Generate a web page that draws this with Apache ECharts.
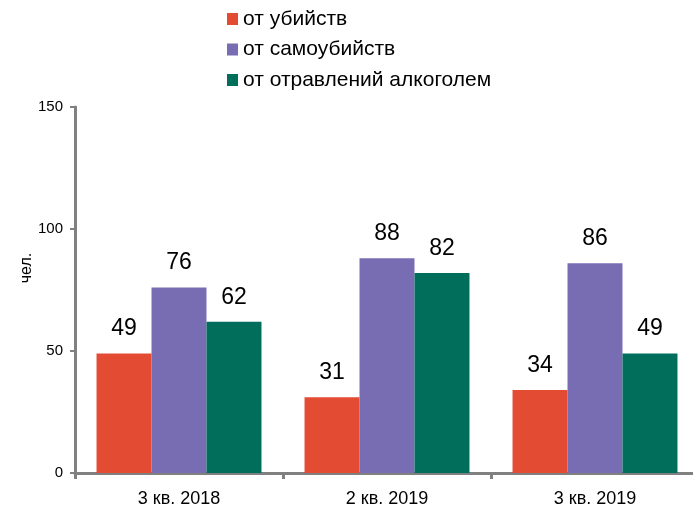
<!DOCTYPE html>
<html>
<head>
<meta charset="utf-8">
<script src="https://cdn.jsdelivr.net/npm/echarts@6/dist/echarts.min.js"></script>
<style>
html, body { margin: 0; padding: 0; background: #fff; }
#chart { width: 693px; height: 508px; }
</style>
</head>
<body>
<div id="chart"></div>
<script>
const categories = ['3 кв. 2018', '2 кв. 2019', '3 кв. 2019'];
const seriesNames = ['от убийств', 'от самоубийств', 'от отравлений алкоголем'];
const murders = [49, 31, 34];
const suicides = [76, 88, 86];
const alcohol = [62, 82, 49];
const colors = ['#E34B33', '#786CB3', '#006E5B'];
const yUnit = 'чел.';

const chart = echarts.init(document.getElementById('chart'));
const font = 'Liberation Sans, Arial, sans-serif';

const mkSeries = (name, data, color) => ({
    name,
    type: 'bar',
    data,
    barGap: 0,
    barCategoryGap: '20.7%',
    itemStyle: { color },
    label: {
        show: true,
        position: 'top',
        distance: 13,
        color: '#000',
        fontSize: 23,
        fontFamily: font,
    },
});

chart.setOption({
    animation: false,
    color: colors,
    textStyle: { fontFamily: font },
    legend: {
        orient: 'vertical',
        left: 222,
        top: 3,
        itemWidth: 11,
        itemHeight: 12,
        itemGap: 8.5,
        icon: 'rect',
        textStyle: { fontSize: 21, lineHeight: 22, color: '#000', fontFamily: font },
        data: seriesNames,
    },
    // unit label beside the y axis
    graphic: [{
        type: 'text',
        x: 27,
        y: 268,
        rotation: Math.PI / 2,
        style: {
            text: yUnit,
            fill: '#000',
            font: '16px ' + font,
            align: 'center',
            verticalAlign: 'middle',
        },
    }],
    grid: {
        left: 75,
        right: -6,
        top: 107,
        bottom: 35,
        outerBoundsMode: 'none',
    },
    xAxis: {
        type: 'category',
        data: categories,
        axisLine: { lineStyle: { color: '#808080', width: 3 } },
        axisTick: { show: true, length: 6, lineStyle: { color: '#808080', width: 3 } },
        axisLabel: { color: '#000', fontSize: 18, margin: 17, fontFamily: font },
    },
    yAxis: {
        type: 'value',
        min: 0,
        max: 150,
        interval: 50,
        axisLine: { show: true, lineStyle: { color: '#808080', width: 3 } },
        axisTick: { show: true, length: 5, lineStyle: { color: '#808080', width: 2 } },
        axisLabel: { color: '#000', fontSize: 15, margin: 12, fontFamily: font },
        splitLine: { show: false },
    },
    series: [
        mkSeries(seriesNames[0], murders, colors[0]),
        mkSeries(seriesNames[1], suicides, colors[1]),
        mkSeries(seriesNames[2], alcohol, colors[2]),
    ],
});
</script>
</body>
</html>
